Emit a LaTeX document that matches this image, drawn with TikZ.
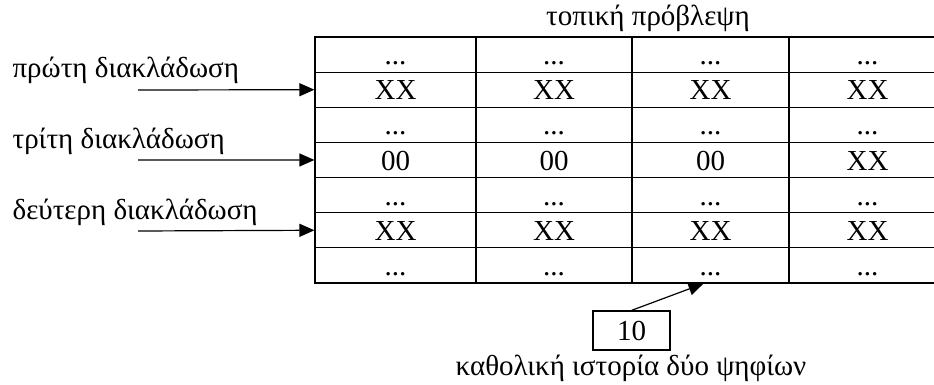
\documentclass[tikz,border=0pt]{standalone}
\usepackage{fontspec}
\setmainfont{Liberation Serif}
\usetikzlibrary{arrows.meta}

\newcommand{\dts}{...}

\begin{document}
\begin{tikzpicture}[
  x=1pt,y=-1pt,
  font=\fontsize{29}{34}\selectfont,
  line width=1.2pt,
  cell/.style={draw,inner sep=0pt,minimum height=35.14pt,
               text height=27.6pt,text depth=7.5pt},
  reg/.style={draw,inner sep=0pt,minimum width=77pt,minimum height=39pt},
  lab/.style={anchor=base,inner sep=0pt},
  >={Triangle[length=15pt,width=13pt]}
]
\useasboundingbox (0,0) rectangle (934,385);
\clip (0,0) rectangle (934,385);
% ---- local prediction table ----
\node[lab] (tbltitle) at (648,26) {τοπική πρόβλεψη};
\foreach \row/\cells in {1/{\dts,\dts,\dts,\dts},2/{XX,XX,XX,XX},
    3/{\dts,\dts,\dts,\dts},4/{00,00,00,XX},5/{\dts,\dts,\dts,\dts},
    6/{XX,XX,XX,XX},7/{\dts,\dts,\dts,\dts}}{
  \foreach \txt [count=\col] in \cells {
    \pgfmathsetmacro\cx{{395.5,554,710.5,867.5}[\col-1]}
    \pgfmathsetmacro\cw{\col==1 ? 161 : 157}
    \node[cell,minimum width=\cw pt] (c\row-\col) at (\cx,19.43+35.14*\row) {\txt};
  }
}
% ---- branches ----
\node[lab,anchor=base west] (br1) at (12,78)  {πρώτη διακλάδωση};
\node[lab,anchor=base west] (br3) at (12,148) {τρίτη διακλάδωση};
\node[lab,anchor=base west] (br2) at (12,219) {δεύτερη διακλάδωση};
\coordinate (in1) at (138,90);
\coordinate (in3) at (138,160);
\coordinate (in2) at (138,231);
\draw[->] (in1) -- (c2-1.west);
\draw[->] (in3) -- (c4-1.west);
\draw[->] (in2) -- (c6-1.west);
% ---- global history register ----
\node[reg] (ghr) at (631.5,330.5) {10};
\node[lab] (ghrlbl) at (631,375) {καθολική ιστορία δύο ψηφίων};
\draw[->] (ghr.north) -- ([xshift=-7pt]c7-3.south);
\end{tikzpicture}
\end{document}
